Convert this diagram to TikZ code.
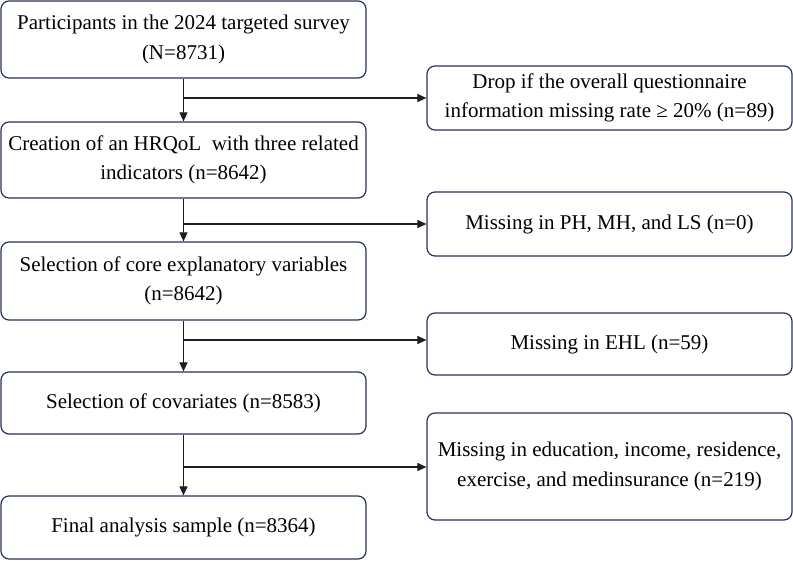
\documentclass[tikz,border=0pt]{standalone}
\usepackage{fontspec}
\setmainfont{Liberation Serif}
\usetikzlibrary{arrows.meta}
\definecolor{boxline}{HTML}{27325A}
\definecolor{arrline}{HTML}{1E1E1E}
\begin{document}
\begin{tikzpicture}[x=1pt,y=-1pt,
  box/.style={draw=boxline, line width=1.2pt, rounded corners=8pt, fill=white,
    minimum width=365pt, align=center, inner sep=0pt,
    font=\fontsize{21}{29.5}\selectfont},
  arr/.style={draw=arrline, line width=1.1pt, -{Triangle[length=9pt,width=8pt]}}]
\useasboundingbox (0,0) rectangle (793,560);
\node[box, minimum height=77pt] (L1) at (183.5,39.5) {Participants in the 2024 targeted survey\\(N=8731)};
\node[box, minimum height=76pt] (L2) at (183.5,160) {Creation of an HRQoL\ \ with three related\\indicators (n=8642)};
\node[box, minimum height=78pt] (L3) at (183.5,281) {Selection of core explanatory variables\\(n=8642)};
\node[box, minimum height=62pt] (L4) at (183.5,403) {Selection of covariates (n=8583)};
\node[box, minimum height=63pt] (L5) at (183.5,527.5) {Final analysis sample (n=8364)};
\node[box, minimum height=64pt] (R1) at (609.5,98) {Drop if the overall questionnaire\\information missing rate ≥ 20\% (n=89)};
\node[box, minimum height=64pt] (R2) at (609.5,224) {Missing in PH, MH, and LS (n=0)};
\node[box, minimum height=62pt] (R3) at (609.5,344) {Missing in EHL (n=59)};
\node[box, minimum height=107pt] (R4) at (609.5,466.5) {Missing in education, income, residence,\\exercise, and medinsurance (n=219)};
\coordinate (b1) at (183.5,98);
\coordinate (b2) at (183.5,224);
\coordinate (b3) at (183.5,340);
\coordinate (b4) at (183.5,467);
\draw[arr] (L1) -- (L2);
\draw[arr] (L2) -- (L3);
\draw[arr] (L3) -- (L4);
\draw[arr] (L4) -- (L5);
\draw[arr] (b1) -- (b1 -| R1.west);
\draw[arr] (b2) -- (b2 -| R2.west);
\draw[arr] (b3) -- (b3 -| R3.west);
\draw[arr] (b4) -- (b4 -| R4.west);
\end{tikzpicture}
\end{document}
